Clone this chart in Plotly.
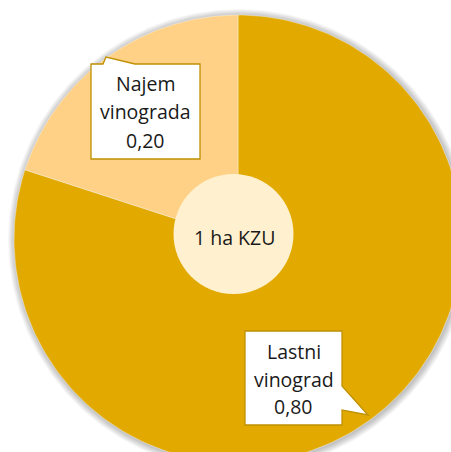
import numpy as np
import plotly.graph_objects as go

# --- data -------------------------------------------------------------
labels = ["Lastni vinograd", "Najem vinograda"]
values = [0.80, 0.20]
center_label = "1 ha KZU"

# --- styling / layout constants ---------------------------------------
slice_colors = ["#E2AA00", "#FFD186"]
hub_color = "#FFF1CF"
callout_edge = "#BF9000"
text_color = "#1A1A1A"
font_family = "Open Sans"
font_size = 19.5

W, H = 451, 452
CX, CY, R = 238, 239, 224          # pie centre and radius (pixel units)

# callout boxes: outline path, text centre x, baselines of the three lines
callouts = {
    "Najem vinograda": dict(
        path="M 91,64 L 103,64 L 106,57 L 135,64 L 200,64 L 200,159 L 91,159 Z",
        x=145.5, baselines=[91, 119, 148]),
    "Lastni vinograd": dict(
        path="M 245,331 L 342,331 L 342,386 L 368,415 L 342,410 L 342,425 L 245,425 Z",
        x=293.5, baselines=[359, 387, 414.5]),
}

fig = go.Figure()

# soft outer shadow around the pie
for k in range(7, 0, -1):
    th = np.linspace(0, 2 * np.pi, 361)
    fig.add_trace(go.Scatter(
        x=CX + 1 + (R + k) * np.cos(th), y=CY + 1 + (R + k) * np.sin(th),
        mode="lines", fill="toself", line=dict(width=0),
        fillcolor="rgba(0,0,0,0.035)", hoverinfo="skip", showlegend=False))

# pie slices, clockwise from 12 o'clock
total = float(sum(values))
start = 90.0
for lab, val, col in zip(labels, values, slice_colors):
    sweep = 360.0 * val / total
    th = np.radians(np.linspace(start, start - sweep, 200))
    xs = np.concatenate([[CX], CX + R * np.cos(th), [CX]])
    ys = np.concatenate([[CY], CY - R * np.sin(th), [CY]])
    fig.add_trace(go.Scatter(
        x=xs, y=ys, mode="lines", fill="toself", fillcolor=col,
        line=dict(color="rgba(255,255,255,0.45)", width=0.8),
        name=lab, hoverinfo="name", showlegend=False))
    start -= sweep

shapes = []
annotations = []

# centre hub with its caption
shapes.append(dict(type="circle", xref="x", yref="y",
                   x0=173.5, x1=293.5, y0=174, y1=294,
                   fillcolor=hub_color, line=dict(width=0), layer="above"))
annotations.append(dict(x=234, y=245 - 0.39 * font_size, xref="x", yref="y",
                        text=center_label, showarrow=False,
                        xanchor="center", yanchor="middle",
                        font=dict(family=font_family, size=font_size, color=text_color)))

# data callouts: category name split over two lines, then the value
for lab, val in zip(labels, values):
    c = callouts[lab]
    shapes.append(dict(type="path", xref="x", yref="y", path=c["path"],
                       fillcolor="white", line=dict(color=callout_edge, width=1.3),
                       layer="above"))
    lines = lab.split(" ") + [f"{val:.2f}".replace(".", ",")]
    for txt, base in zip(lines, c["baselines"]):
        annotations.append(dict(x=c["x"], y=base - 0.39 * font_size,
                                xref="x", yref="y", text=txt, showarrow=False,
                                xanchor="center", yanchor="middle",
                                font=dict(family=font_family, size=font_size,
                                          color=text_color)))

fig.update_layout(
    width=W, height=H,
    margin=dict(l=0, r=0, t=0, b=0, pad=0),
    paper_bgcolor="white", plot_bgcolor="white",
    xaxis=dict(range=[0, W], visible=False, fixedrange=True),
    yaxis=dict(range=[H, 0], visible=False, fixedrange=True),
    shapes=shapes, annotations=annotations,
    showlegend=False,
)

fig.write_html("out.html")
